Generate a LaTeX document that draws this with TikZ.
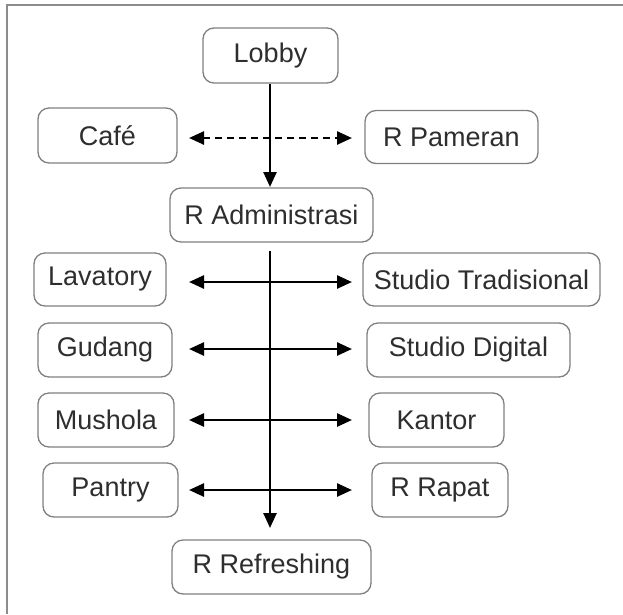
\documentclass[tikz,border=0pt]{standalone}
\usepackage{fontspec}
\setmainfont{Liberation Sans}
\usetikzlibrary{arrows.meta}
\definecolor{boxline}{HTML}{808080}
\definecolor{framegray}{HTML}{8C8C8C}
\definecolor{label}{HTML}{2E2E2E}
\tikzset{
  room/.style={draw=boxline, line width=1.3pt, rounded corners=11pt, fill=white,
    inner sep=0pt, font=\fontsize{27}{32}\selectfont, text=label},
  tip/.tip={Triangle[length=15pt,width=13pt]},
  flow/.style={line width=2.5pt, -tip},
  link/.style={line width=2.5pt, tip-tip},
  dlink/.style={link, dash pattern=on 7pt off 5pt},
}
\begin{document}
\begin{tikzpicture}[x=1pt,y=-1pt]
  \useasboundingbox (0,0) rectangle (623,614);
  \fill[white] (0,0) rectangle (623,614);
  % frame on the left and top
  \draw[framegray, line width=1.6pt] (7,614) -- (7,5) -- (623,5);

  % rooms
  \node[room, minimum width=135pt, minimum height=55pt] (lobby) at (270.5,55.5) {Lobby};
  \node[room, minimum width=139pt, minimum height=55pt] (cafe)  at (107.5,135.5) {Café};
  \node[room, minimum width=173pt, minimum height=53pt] (pam)   at (451.5,137) {R Pameran};
  \node[room, minimum width=203pt, minimum height=54pt] (adm)   at (271.5,215) {R Administrasi};
  \node[room, minimum width=132pt, minimum height=53pt] (lav)   at (100,279.5) {Lavatory};
  \node[room, minimum width=237pt, minimum height=53pt] (trad)  at (481.5,279.5) {Studio Tradisional};
  \node[room, minimum width=134pt, minimum height=54pt] (gud)   at (105,350) {Gudang};
  \node[room, minimum width=203pt, minimum height=54pt] (dig)   at (468.5,350) {Studio Digital};
  \node[room, minimum width=136pt, minimum height=54pt] (mus)   at (106,420) {Mushola};
  \node[room, minimum width=135pt, minimum height=54pt] (kan)   at (436.5,420) {Kantor};
  \node[room, minimum width=135pt, minimum height=54pt] (pan)   at (110.5,490) {Pantry};
  \node[room, minimum width=136pt, minimum height=54pt] (rap)   at (440,490) {R Rapat};
  \node[room, minimum width=199pt, minimum height=54pt] (ref)   at (271.5,567) {R Refreshing};

  % free ends of the connectors
  \coordinate (a1) at (270,84);
  \coordinate (a2) at (270,187);
  \coordinate (spine) at (270,251);
  \coordinate (b2) at (270,528);
  \foreach \n/\y in {c/138, l/282, g/349, m/420, p/490}{
    \coordinate (\n L) at (189,\y);
    \coordinate (\n R) at (352,\y);
  }

  % main circulation
  \draw[flow] (a1) -- (a2);
  \draw[flow] (spine) -- (b2);

  % side relations
  \draw[dlink] (cL) -- (cR);
  \draw[link] (lL) -- (lR);
  \draw[link] (gL) -- (gR);
  \draw[link] (mL) -- (mR);
  \draw[link] (pL) -- (pR);
\end{tikzpicture}
\end{document}
